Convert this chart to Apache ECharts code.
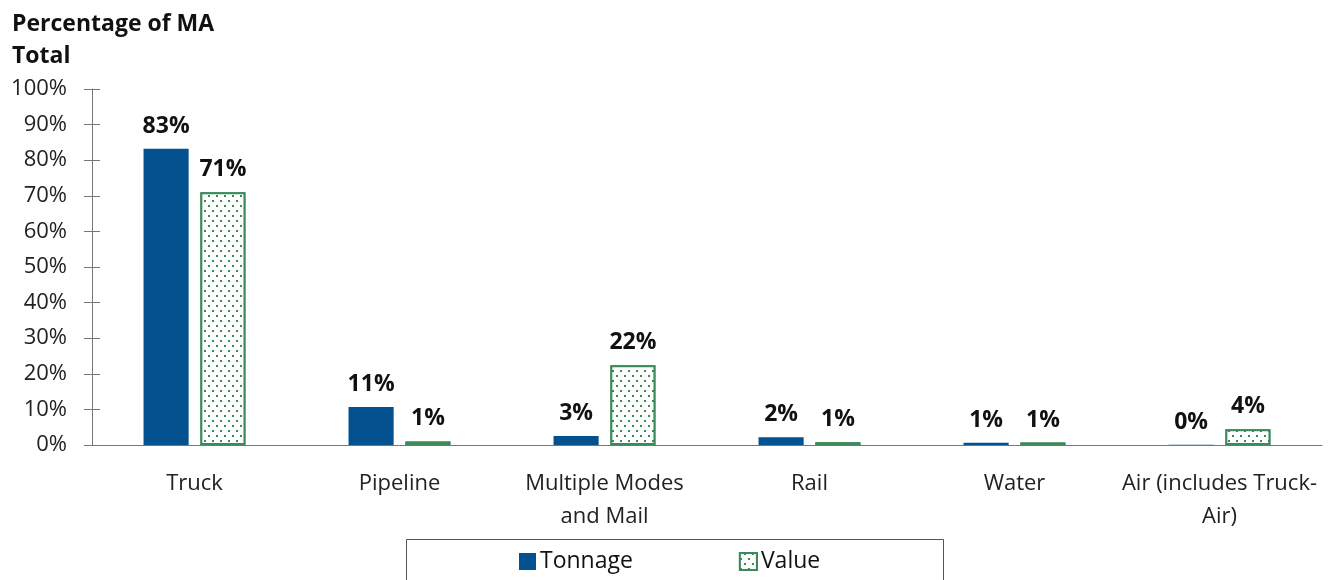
<!DOCTYPE html>
<html>
<head>
<meta charset="utf-8">
<script src="https://cdn.jsdelivr.net/npm/echarts@6/dist/echarts.min.js"></script>
<style>
  html, body { margin: 0; padding: 0; background: #fff; }
  #chart { width: 1338px; height: 580px; }
</style>
</head>
<body>
<div id="chart"></div>
<script>
// share of MA total by mode (%)
const modes = ['Truck', 'Pipeline', 'Multiple Modes\nand Mail', 'Rail', 'Water', 'Air (includes Truck-\nAir)']
const tonnage = [83.2, 10.7, 2.5, 2.2, 0.6, 0.05]
const value = [71.0, 1.0, 22.4, 0.8, 0.7, 4.4]
const yTicks = [0, 10, 20, 30, 40, 50, 60, 70, 80, 90, 100]

const font = "'Open Sans', 'Noto Sans', sans-serif"
const blue = '#03518f'
const green = '#3b8a5a'

const chart = echarts.init(document.getElementById('chart'))

const barLabel = {
  show: true, position: 'top', distance: 11,
  fontFamily: font, fontSize: 23, fontWeight: 'bold', color: '#111',
  formatter: p => Math.round(p.value) + '%'
}

chart.setOption({
  animation: false,
  textStyle: { fontFamily: font },
  title: {
    text: 'Percentage of MA\nTotal', left: 12, top: 8, padding: 0,
    textStyle: { fontFamily: font, fontSize: 23, fontWeight: 'bold', color: '#111', lineHeight: 32 }
  },
  grid: { left: 92, right: 16, top: 89, bottom: 135 },
  legend: {
    left: 519, top: 550, padding: 0, icon: 'rect',
    itemWidth: 17, itemHeight: 17, itemGap: 106,
    textStyle: { fontFamily: font, fontSize: 23, color: '#111', padding: [0, 0, 0, -1] },
    data: ['Tonnage', 'Value']
  },
  graphic: [{
    type: 'rect', left: 404, top: 537, silent: true,
    shape: { width: 537, height: 60 },
    style: { fill: 'none', stroke: '#555', lineWidth: 1 }
  }],
  xAxis: {
    type: 'category', data: modes,
    axisLine: { lineStyle: { color: '#777' } },
    axisTick: { length: 8, lineStyle: { color: '#555' } },
    axisLabel: { margin: 22, fontSize: 22, color: '#222', lineHeight: 33, interval: 0 }
  },
  yAxis: [{
    type: 'value', min: 0, max: 100, interval: 10,
    axisLine: { show: true, lineStyle: { color: '#777' } },
    axisTick: { show: true, length: 8, lineStyle: { color: '#777' } },
    splitLine: { show: false },
    axisLabel: { margin: 25, fontSize: 22, color: '#222', formatter: v => yTicks.includes(v) ? v + '%' : '' }
  }, {
    type: 'value', min: 0, max: 100, interval: 10, position: 'left',
    axisLine: { show: false },
    axisTick: { show: true, inside: true, length: 8, lineStyle: { color: '#777' } },
    splitLine: { show: false },
    axisLabel: { show: false }
  }],
  series: [{
    name: 'Tonnage', type: 'bar', data: tonnage,
    barWidth: '22%', barGap: '26%',
    itemStyle: { color: blue },
    label: barLabel
  }, {
    name: 'Value', type: 'bar', data: value,
    barWidth: '22%',
    itemStyle: {
      color: '#fff', borderColor: green, borderWidth: 2,
      decal: {
        symbol: 'rect', symbolSize: 1, color: green, backgroundColor: '#fff',
        dashArrayX: [[2, 6], [0, 4, 2, 2]], dashArrayY: [2, 3], rotation: 0
      }
    },
    label: barLabel
  }]
})
</script>
</body>
</html>
